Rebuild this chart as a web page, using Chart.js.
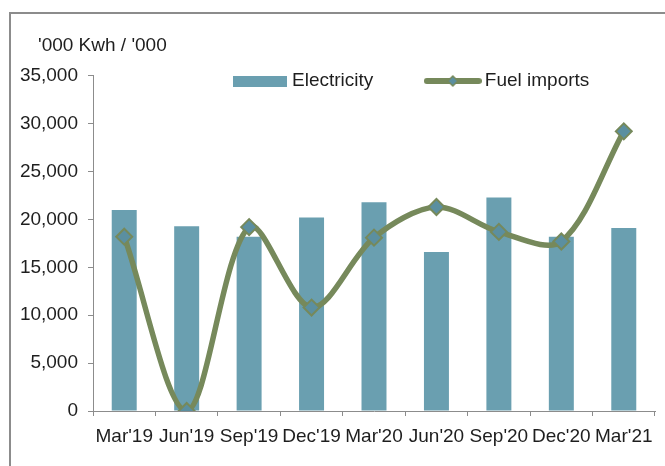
<!DOCTYPE html>
<html>
<head>
<meta charset="utf-8">
<script src="https://cdn.jsdelivr.net/npm/chart.js@4/dist/chart.umd.min.js"></script>
<style>
  html, body { margin: 0; padding: 0; background: #fff; overflow: hidden; }
  #frame { position: absolute; left: 9px; top: 12px; width: 700px; height: 500px; border: 2px solid #8c8c8c; box-sizing: border-box; }
  #wrap { position: absolute; left: 0; top: 0; width: 665px; height: 466px; }
</style>
</head>
<body>
<div id="frame"></div>
<div id="wrap"><canvas id="c"></canvas></div>
<script>
const categories = ["Mar'19", "Jun'19", "Sep'19", "Dec'19", "Mar'20", "Jun'20", "Sep'20", "Dec'20", "Mar'21"];
const electricity = [21000, 19300, 18200, 20200, 21800, 16600, 22300, 18200, 19100];
const fuelImports = [18200, 0, 19200, 10800, 18100, 21300, 18700, 17700, 29200];
const yTicks = [0, 5000, 10000, 15000, 20000, 25000, 30000, 35000];
const titleText = "'000 Kwh / '000";
const seriesNames = ["Electricity", "Fuel imports"];

const BAR_COLOR = '#6a9fb0';
const LINE_COLOR = '#76895b';
const MARK_FILL = '#5b8fa0';
const TEXT_COLOR = '#1e1e1e';
const AXIS_COLOR = '#8c8c8c';
const FONT = "'Liberation Sans', Arial, sans-serif";
const FS = 19;

function swatchBar() {
  const c = document.createElement('canvas');
  c.width = 54; c.height = 11;
  const x = c.getContext('2d');
  x.fillStyle = BAR_COLOR; x.fillRect(0, 0, 54, 11);
  return c;
}
function swatchLine() {
  const c = document.createElement('canvas');
  c.width = 58; c.height = 14;
  const x = c.getContext('2d');
  x.strokeStyle = LINE_COLOR; x.lineWidth = 6; x.lineCap = 'round';
  x.beginPath(); x.moveTo(3, 7); x.lineTo(55, 7); x.stroke();
  x.fillStyle = MARK_FILL; x.strokeStyle = LINE_COLOR; x.lineWidth = 1.5;
  x.beginPath(); x.moveTo(29, 2); x.lineTo(34, 7); x.lineTo(29, 12); x.lineTo(24, 7); x.closePath();
  x.fill(); x.stroke();
  return c;
}

const LEG_PAD = 57;
const placeBoxes = {
  id: 'placeBoxes',
  afterLayout(chart) {
    const lg = chart.legend;
    if (lg) {
      lg.left = 237.5 - LEG_PAD;
      lg.right = lg.left + 620;
      lg.top = 71.5 - LEG_PAD;
      lg.bottom = lg.top + LEG_PAD * 2 + 30;
    }
    const tb = chart.titleBlock;
    if (tb) {
      const w = tb.right - tb.left;
      tb.left = 38;
      tb.right = tb.left + w;
    }
  }
};

Chart.defaults.font.family = FONT;
Chart.defaults.font.size = FS;
Chart.defaults.color = TEXT_COLOR;

new Chart(document.getElementById('c'), {
  data: {
    labels: categories,
    datasets: [
      {
        type: 'bar',
        label: seriesNames[0],
        data: electricity,
        backgroundColor: BAR_COLOR,
        borderWidth: 0,
        barPercentage: 0.4,
        categoryPercentage: 1.0,
        order: 2
      },
      {
        type: 'line',
        label: seriesNames[1],
        data: fuelImports,
        borderColor: LINE_COLOR,
        borderWidth: 5.5,
        tension: 0.32,
        fill: false,
        pointStyle: 'rectRot',
        pointRadius: 8,
        pointBorderWidth: 2,
        pointBackgroundColor: MARK_FILL,
        pointBorderColor: LINE_COLOR,
        order: 1
      }
    ]
  },
  options: {
    responsive: true,
    maintainAspectRatio: false,
    animation: false,
    layout: { padding: { left: 12, right: 9, top: 0, bottom: 0 } },
    plugins: {
      tooltip: { enabled: false },
      title: {
        display: true,
        text: titleText,
        align: 'start',
        color: TEXT_COLOR,
        font: { size: FS, weight: 'normal', family: FONT },
        padding: { top: 34, bottom: 18 }
      },
      legend: {
        display: true,
        position: 'top',
        align: 'start',
        maxHeight: 1,
        labels: {
          usePointStyle: true,
          pointStyleWidth: 45,
          padding: LEG_PAD,
          color: TEXT_COLOR,
          font: { size: FS, family: FONT },
          generateLabels() {
            return [
              { text: seriesNames[0], pointStyle: swatchBar(), datasetIndex: 0, hidden: false, lineWidth: 0, fontColor: TEXT_COLOR },
              { text: seriesNames[1], pointStyle: swatchLine(), datasetIndex: 1, hidden: false, lineWidth: 0, fontColor: TEXT_COLOR }
            ];
          }
        }
      }
    },
    scales: {
      x: {
        offset: true,
        afterFit(s) { s.height = 55; },
        grid: { display: true, drawOnChartArea: false, drawTicks: true, tickLength: 5, color: AXIS_COLOR, offset: true },
        border: { display: true, color: AXIS_COLOR, width: 1 },
        ticks: { autoSkip: false, maxRotation: 0, minRotation: 0, padding: 9, color: TEXT_COLOR, font: { size: FS } }
      },
      y: {
        min: 0,
        max: 35000,
        afterFit(s) { s.width = 81; },
        afterBuildTicks(s) { s.ticks = yTicks.map(v => ({ value: v })); },
        grid: { display: true, drawOnChartArea: false, drawTicks: true, tickLength: 5, color: AXIS_COLOR },
        border: { display: true, color: AXIS_COLOR, width: 1 },
        ticks: {
          padding: 10,
          color: TEXT_COLOR,
          font: { size: FS },
          callback: v => v.toLocaleString('en-US')
        }
      }
    }
  },
  plugins: [placeBoxes]
});
</script>
</body>
</html>
